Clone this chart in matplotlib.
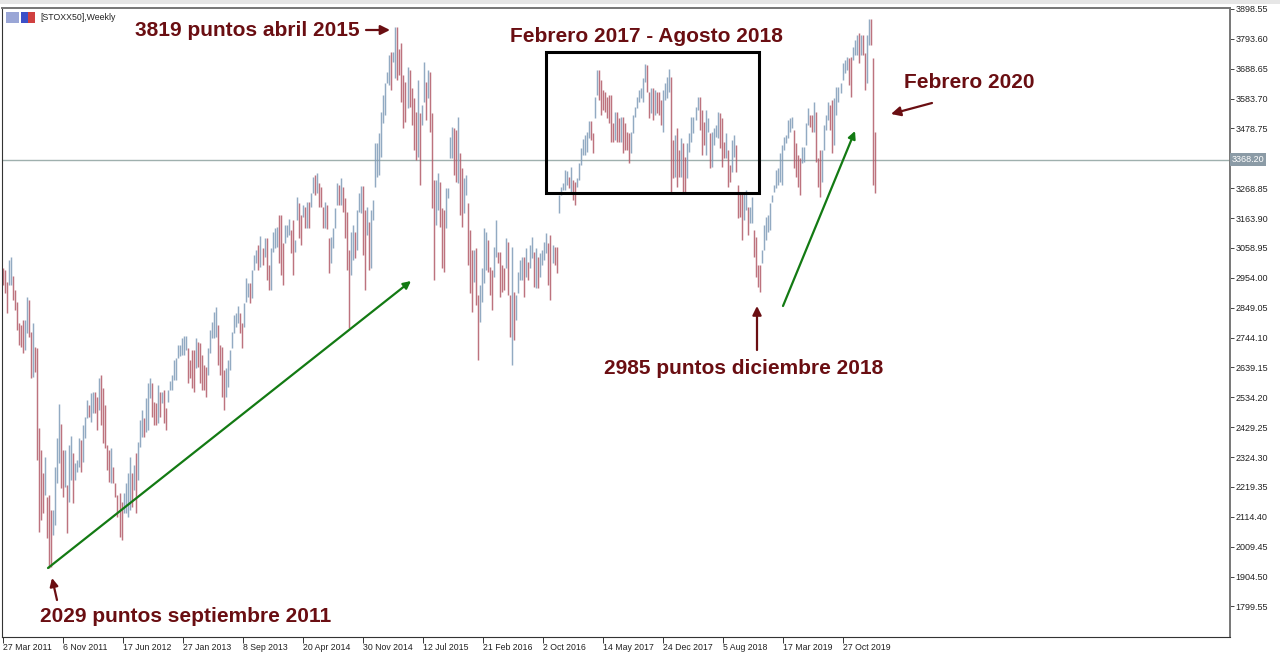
import matplotlib
matplotlib.use('Agg')
import matplotlib.pyplot as plt
from matplotlib.patches import FancyArrowPatch, Rectangle

W, H = 1280, 657

# weekly high / low
highs = [
    2989,2981,2939,3017,3027,2960,2911,2869,2795,2788,2806,2806,2887,2876,2764,2795,2711,2707,2426,2349,
    2268,2325,2184,2191,2138,2138,2289,2391,2511,2440,2349,2349,2226,2367,2398,2339,2303,2314,2391,2384,
    2437,2465,2525,2507,2549,2553,2553,2535,2602,2613,2567,2507,2367,2349,2356,2289,2233,2191,2198,2166,
    2198,2233,2268,2325,2268,2296,2339,2377,2455,2490,2462,2532,2585,2602,2585,2518,2514,2577,2553,2553,
    2560,2497,2560,2592,2613,2665,2672,2718,2718,2743,2750,2750,2707,2665,2700,2700,2743,2729,2725,2683,
    2648,2641,2707,2771,2799,2834,2852,2788,2718,2711,
    2630,2637,2665,2700,2764,2823,2830,2855,2830,2795,2866,2953,2936,2936,2981,3034,3052,3069,3101,3059,
    3094,3094,2999,3059,3115,3129,3133,3175,3175,3076,3140,3140,3161,3122,3157,3087,3238,3217,3175,3210,
    3203,3220,3220,3252,3308,3315,3322,3287,3273,3203,3220,3210,3094,3097,3129,3199,3287,3280,3305,3273,
    3234,3185,3052,3115,3140,3115,3192,3252,3277,3277,3192,3203,3150,3192,3227,3428,3428,3463,3537,3596,
    3638,3677,3737,3747,3747,3835,3835,3758,3779,3667,3642,3695,3684,3621,3586,3537,3649,3533,3561,3712,
    3642,3684,3677,3533,3298,3298,3322,3291,3199,3192,3270,3270,3449,3484,3480,3473,3519,3392,3340,3305,
    3315,3217,3122,3052,3052,3059,2894,2929,2989,3129,3115,3087,2992,2981,3062,3157,3045,3045,3000,2989,
    3094,3080,2894,3062,2904,2894,2974,3017,3027,3027,3059,3010,3069,3097,3045,3059,3027,3041,3052,3080,
    3111,3076,3104,3069,3062,3062,3245,3273,3287,3333,3329,3308,3343,3298,3291,3305,3357,3410,3442,3456,
    3466,3505,3505,3463,3589,3684,3684,3649,3614,3607,3589,3596,3596,3498,3537,3537,3515,3519,3519,3498,
    3466,3463,3466,3526,3554,3589,3614,3621,3656,3705,3702,3607,3621,3621,3614,3607,3607,3579,3614,3638,
    3659,3688,3659,3438,3456,3480,3403,3445,3428,3378,3428,3463,3519,3519,3554,3589,3589,3544,3501,3544,
    3515,3463,3466,3480,3491,3537,3533,3515,3431,3463,3403,3350,3438,3456,3421,
    3280,3255,3255,3252,3262,3203,3203,3238,3122,3097,3000,3000,3052,3140,3168,3175,3217,3245,3280,3333,
    3340,3392,3421,3449,3456,3508,3515,3519,3473,3428,3385,3375,3414,3414,3498,3551,3526,3526,3572,3537,
    3375,3403,3403,3491,3526,3572,3561,3579,3586,3624,3624,3638,3709,3719,3730,3726,3730,3765,3789,3807,
    3814,3807,3807,3744,3807,3863,3863,3726,3466,
]
lows = [
    2929,2901,2830,2929,2929,2876,2841,2771,2718,2711,2690,2700,2760,2746,2602,2606,2623,2314,2061,2103,
    2128,2191,2040,1935,1938,2051,2086,2233,2303,2216,2184,2219,2058,2166,2244,2163,2244,2272,2289,2272,
    2307,2391,2462,2465,2448,2479,2479,2419,2490,2437,2374,2356,2279,2237,2233,2233,2184,2114,2043,2033,
    2128,2128,2114,2138,2149,2209,2128,2244,2360,2395,2395,2412,2419,2532,2465,2437,2437,2444,2465,2514,
    2444,2419,2518,2560,2560,2595,2595,2672,2679,2683,2683,2700,2585,2602,2567,2553,2637,2641,2585,2560,
    2560,2535,2613,2690,2743,2743,2746,2648,2613,2535,
    2490,2535,2570,2630,2707,2760,2781,2795,2760,2707,2781,2869,2887,2866,2883,2981,3006,2981,2992,2999,
    3027,2946,2911,2911,3045,3059,3062,3006,2964,2929,3076,3097,3104,3041,2964,3045,3157,3094,3069,3168,
    3129,3129,3129,3203,3252,3245,3252,3203,3203,3129,3129,3126,2971,3006,3059,3129,3210,3210,3210,3185,
    3094,2981,2778,2964,3017,3024,3052,3185,3182,3034,2911,3104,2981,2989,3157,3273,3308,3315,3378,3498,
    3526,3638,3631,3614,3712,3656,3649,3667,3572,3480,3501,3551,3554,3491,3403,3368,3378,3280,3491,3572,
    3508,3586,3466,3199,2946,3140,3192,3133,2989,2974,3129,3234,3375,3375,3315,3291,3287,3175,3133,3182,
    3245,3000,2901,2834,2939,2859,2665,2799,2869,2936,2981,2974,2894,2841,2957,3027,3006,2887,2904,2911,
    2989,2894,2746,2648,2736,2806,2901,2946,2946,2887,2957,2946,2989,3024,2922,2918,2918,2957,2999,3017,
    3041,2929,2876,3006,2999,2971,3182,3245,3262,3262,3280,3270,3252,3227,3210,3273,3298,3350,3385,3385,
    3396,3445,3438,3392,3515,3596,3579,3526,3544,3537,3515,3498,3431,3431,3438,3431,3431,3431,3392,3403,
    3403,3357,3392,3463,3519,3551,3572,3586,3572,3642,3607,3515,3533,3508,3526,3533,3526,3491,3466,3579,
    3586,3607,3252,3305,3308,3273,3308,3308,3255,3255,3305,3396,3431,3463,3508,3544,3473,3385,3421,3385,
    3466,3340,3343,3421,3449,3445,3410,3343,3375,3375,3273,3291,3326,3378,3326,
    3164,3168,3087,3157,3192,3104,3147,3147,3027,2957,2922,2904,3006,3052,3087,3115,3122,3220,3255,3270,
    3280,3291,3280,3403,3428,3445,3466,3480,3340,3308,3273,3245,3357,3361,3421,3491,3484,3466,3466,3361,
    3273,3238,3291,3403,3473,3508,3473,3392,3421,3526,3572,3603,3649,3674,3684,3631,3589,3719,3737,3737,
    3709,3737,3737,3614,3638,3772,3772,3280,3252,
]

date_labels = ['27 Mar 2011', '6 Nov 2011', '17 Jun 2012', '27 Jan 2013', '8 Sep 2013',
               '20 Apr 2014', '30 Nov 2014', '12 Jul 2015', '21 Feb 2016', '2 Oct 2016',
               '14 May 2017', '24 Dec 2017', '5 Aug 2018', '17 Mar 2019', '27 Oct 2019']
bars_per_label = 29.8  # the bars above were read about every 2 pixels

price_ticks = [3898.55, 3793.60, 3688.65, 3583.70, 3478.75, 3268.85, 3163.90, 3058.95,
               2954.00, 2849.05, 2744.10, 2639.15, 2534.20, 2429.25, 2324.30, 2219.35, 2114.40,
               2009.45, 1904.50, 1799.55]
last_price = 3368.20

RED = '#b25a68'
BLUE = '#7f9bb8'
NOTE = '#6a0e12'
GREEN = '#137a13'


def px(x, y):
    return x / W, 1 - y / H


def arrow(x0, y0, x1, y1, color, lw=1.6, size=11):
    fig.add_artist(FancyArrowPatch(px(x0, y0), px(x1, y1), transform=fig.transFigure,
                                   arrowstyle='-|>', mutation_scale=size, color=color,
                                   lw=lw, shrinkA=0, shrinkB=0))


def note(x, y, s):
    fig.text(*px(x, y), s, color=NOTE, fontsize=15, fontweight='bold',
             family='Liberation Sans', va='center', ha='left')


fig = plt.figure(figsize=(W / 100, H / 100), dpi=100)
ax = fig.add_axes([2 / W, 1 - 637 / H, 1228 / W, 629 / H])

xs = list(range(len(highs)))
colors = [BLUE if i > 0 and highs[i] + lows[i] > highs[i - 1] + lows[i - 1] else RED for i in xs]
ax.vlines(xs, lows, highs, colors=colors, linewidth=1.05, alpha=0.85)

ax.axhline(last_price, color='#9fb0ae', linewidth=1.0, zorder=1)

ax.set_xlim(-0.35, 609.4)
ax.set_ylim(1692, 3902)

ax.yaxis.tick_right()
ax.set_yticks(price_ticks)
ax.set_yticklabels(['%.2f' % p for p in price_ticks],
                   fontsize=6.5, family='Liberation Sans', color='#222222')
ax.tick_params(axis='y', length=3, width=0.7, pad=1, color='#444444')

ax.set_xticks([i * bars_per_label for i in range(len(date_labels))])
ax.set_xticklabels(date_labels, fontsize=6.3, family='Liberation Sans', ha='left', color='#222222')
ax.tick_params(axis='x', length=4, width=0.7, pad=0, color='#333333')

ax.spines['left'].set_color('#333333')
ax.spines['bottom'].set_color('#333333')
ax.spines['top'].set_color('#777777')
ax.spines['right'].set_color('#777777')
ax.spines['top'].set_linewidth(1.4)
ax.spines['right'].set_linewidth(1.4)

ax.text(1.0015, last_price, '%.2f' % last_price, transform=ax.get_yaxis_transform(),
        fontsize=6.5, family='Liberation Sans', color='white', va='center', ha='left',
        bbox=dict(facecolor='#8b9ba6', edgecolor='none', pad=1.4))

# window strip on top and the chart header
fig.add_artist(Rectangle((0, 1 - 4 / H), 1, 4 / H, transform=fig.transFigure, color='#e6e6e6', lw=0))
fig.add_artist(Rectangle(px(6, 23), 13 / W, 11 / H, transform=fig.transFigure, color='#9aa6d6', lw=0))
fig.add_artist(Rectangle(px(21, 23), 7 / W, 11 / H, transform=fig.transFigure, color='#3c50c8', lw=0))
fig.add_artist(Rectangle(px(28, 23), 7 / W, 11 / H, transform=fig.transFigure, color='#d04040', lw=0))
fig.text(*px(40, 17), '[STOXX50],Weekly', fontsize=6.3, family='Liberation Sans',
         color='#222222', va='center')

# range box, hand drawn notes and arrows
fig.add_artist(Rectangle(px(546, 193), 213 / W, 141 / H, transform=fig.transFigure,
                         fill=False, edgecolor='black', lw=2.2))

note(135, 30, '3819 puntos abril 2015')
note(510, 37, 'Febrero 2017 - Agosto 2018')
note(904, 83, 'Febrero 2020')
note(604, 369, '2985 puntos diciembre 2018')
note(40, 617, '2029 puntos septiembre 2011')

arrow(48, 568, 411, 281, GREEN)
arrow(783, 306, 855, 131, GREEN)
arrow(366, 30, 390, 30, NOTE, size=14)
arrow(57, 600, 52, 578, NOTE, size=12)
arrow(757, 350, 757, 306, NOTE, size=13)
arrow(932, 103, 891, 114, NOTE, size=14)

plt.savefig('out.png', dpi=100)
